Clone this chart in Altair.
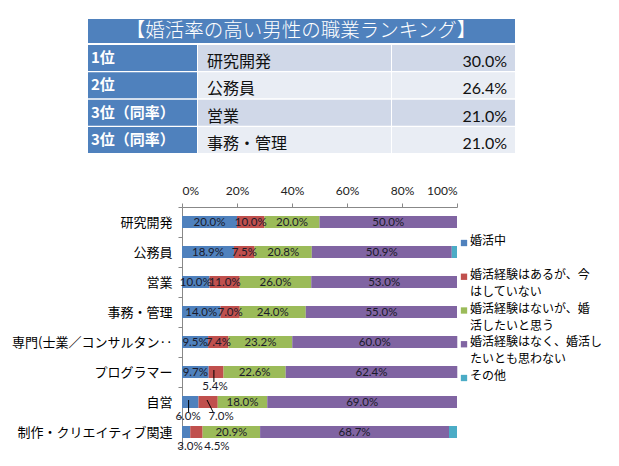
import altair as alt
import pandas as pd

# ---------------- data ----------------
categories = ["研究開発", "公務員", "営業", "事務・管理",
              "専門(士業／コンサルタン‥", "プログラマー", "自営", "制作・クリエイティブ関連"]
series = ["婚活中", "婚活経験はあるが、今はしていない", "婚活経験はないが、婚活したいと思う",
          "婚活経験はなく、婚活したいとも思わない", "その他"]
legend_lines = ["婚活中", "婚活経験はあるが、今\nはしていない", "婚活経験はないが、婚\n活したいと思う",
                "婚活経験はなく、婚活し\nたいとも思わない", "その他"]
s_active = [20.0, 18.9, 10.0, 14.0, 9.5, 9.7, 6.0, 3.0]
s_past = [10.0, 7.5, 11.0, 7.0, 7.4, 5.4, 7.0, 4.5]
s_want = [20.0, 20.8, 26.0, 24.0, 23.2, 22.6, 18.0, 20.9]
s_none = [50.0, 50.9, 53.0, 55.0, 60.0, 62.4, 69.0, 68.7]
s_other = [0.0, 1.9, 0.0, 0.0, 0.0, 0.0, 0.0, 2.9]
colors = ["#4F81BD", "#C0504D", "#9BBB59", "#8064A2", "#4BACC6"]

# labels placed below the bar
out_cat = ["プログラマー", "自営", "自営", "制作・クリエイティブ関連", "制作・クリエイティブ関連"]
out_series = [1, 0, 1, 0, 1]
out_text = ["5.4%", "6.0%", "7.0%", "3.0%", "4.5%"]
out_x = [12.0, 2.2, 14.2, 2.9, 12.7]
lead_cat = ["プログラマー", "自営", "自営"]
lead_x1 = [11.6, 2.4, 9.1]
lead_x2 = [11.6, 2.4, 11.3]

rank_labels = ["1位", "2位", "3位（同率）", "3位（同率）"]
rank_jobs = ["研究開発", "公務員", "営業", "事務・管理"]
rank_rates = ["30.0%", "26.4%", "21.0%", "21.0%"]
table_title = "【婚活率の高い男性の職業ランキング】"

# ---------------- tables ----------------
all_series = [s_active, s_past, s_want, s_none, s_other]
rows = []
for ci, c in enumerate(categories):
    start = 0.0
    for si, s in enumerate(series):
        v = all_series[si][ci]
        rows.append({"cat": c, "series": s, "sidx": si, "value": v,
                     "start": start, "end": start + v, "mid": start + v / 2,
                     "label": f"{v:.1f}%"})
        start += v
bars_df = pd.DataFrame(rows)
bars_df = bars_df[bars_df["value"] > 0]
outside_keys = set(zip(out_cat, [series[i] for i in out_series]))
inside_df = bars_df[(bars_df["sidx"] < 4) &
                    (~bars_df.apply(lambda r: (r["cat"], r["series"]) in outside_keys, axis=1))]
out_df = pd.DataFrame({"cat": out_cat, "text": out_text, "x": out_x})
lead_df = pd.DataFrame({"cat": lead_cat, "x1": lead_x1, "x2": lead_x2})
legend_df = pd.DataFrame({"idx": list(range(len(series))), "text": legend_lines, "series": series})
rank_df = pd.DataFrame({"idx": list(range(4)), "rank": rank_labels, "job": rank_jobs, "rate": rank_rates})
title_df = pd.DataFrame({"t": [table_title]})

JP = "Noto Sans CJK JP"
NUM = "Lato"

# ---------------- bar chart group ----------------
yenc = alt.Y("cat:N", sort=categories,
             scale=alt.Scale(domain=categories, paddingInner=0, paddingOuter=0),
             axis=alt.Axis(orient="left", title=None, labelFontSize=13, labelColor="#000",
                           labelFont=JP, tickBand="extent", tickSize=4, tickColor="#888",
                           domainColor="#888", labelPadding=6, labelLimit=220, grid=False))
xscale = alt.Scale(domain=[0, 100], nice=False)

bars = alt.Chart(bars_df).mark_bar(size=12).encode(
    x=alt.X("start:Q", scale=xscale,
            axis=alt.Axis(orient="top", values=[0, 20, 40, 60, 80, 100], labelExpr="datum.value + '%'",
                          title=None, tickSize=4, tickColor="#888", domainColor="#888",
                          labelFontSize=12, labelColor="#222", labelFont=NUM, labelPadding=6,
                          grid=False)),
    x2="end:Q",
    y=yenc,
    color=alt.Color("series:N", scale=alt.Scale(domain=series, range=colors), legend=None),
)
inside = alt.Chart(inside_df).mark_text(fontSize=11.5, font=NUM, color="#1a1a2a", dy=1).encode(
    x=alt.X("mid:Q", scale=xscale),
    y=alt.Y("cat:N", sort=categories),
    text="label:N",
)
outside = alt.Chart(out_df).mark_text(fontSize=11.5, font=NUM, color="#1a1a2a", dy=15).encode(
    x=alt.X("x:Q", scale=xscale),
    y=alt.Y("cat:N", sort=categories),
    text="text:N",
)
leaders = alt.Chart(lead_df).mark_rule(color="#000", strokeWidth=1, yOffset=-2, y2Offset=10).encode(
    x=alt.X("x1:Q", scale=xscale),
    x2="x2:Q",
    y=alt.Y("cat:N", sort=categories, bandPosition=0.5),
    y2=alt.Y2("cat:N", bandPosition=0.5),
)
bar_group = alt.layer(bars, inside, outside, leaders)

# ---------------- legend group ----------------
lscale = alt.Scale(domain=[0, 4], range=[36, 171])
leg_sq = alt.Chart(legend_df).mark_square(size=40, opacity=1, dy=2).encode(
    x=alt.value(282),
    y=alt.Y("idx:Q", scale=lscale, axis=None),
    color=alt.Color("series:N", scale=alt.Scale(domain=series, range=colors), legend=None),
)
leg_tx = alt.Chart(legend_df).mark_text(align="left", baseline="top", dy=-7, fontSize=12,
                                         font=JP, color="#000", lineBreak="\n", lineHeight=17).encode(
    x=alt.value(288),
    y=alt.Y("idx:Q", scale=lscale, axis=None),
    text="text:N",
)
legend_group = alt.layer(leg_sq, leg_tx)

# ---------------- ranking table group ----------------
rscale = alt.Scale(domain=[0, 1, 2, 3], range=[-162, -54], paddingInner=0.05, paddingOuter=0)
ry = alt.Y("idx:O", scale=rscale, axis=None)
shade = alt.condition("datum.idx % 2 == 0", alt.value("#D0D8E8"), alt.value("#E9EDF4"))
title_rect = alt.Chart(title_df).mark_rect(color="#4F81BD").encode(
    x=alt.value(-94), x2=alt.value(333), y=alt.value(-188), y2=alt.value(-164))
title_txt = alt.Chart(title_df).mark_text(fontSize=19.5, font=JP, fontWeight=300, color="#fff").encode(
    x=alt.value(119), y=alt.value(-176), text="t:N")
c1 = alt.Chart(rank_df).mark_rect(color="#4F81BD").encode(x=alt.value(-94), x2=alt.value(15), y=ry)
c2 = alt.Chart(rank_df).mark_rect().encode(x=alt.value(16), x2=alt.value(209), y=ry, color=shade)
c3 = alt.Chart(rank_df).mark_rect().encode(x=alt.value(210), x2=alt.value(333), y=ry, color=shade)
t1 = alt.Chart(rank_df).mark_text(align="left", fontSize=15, fontWeight="bold", font=JP,
                                  color="#fff", dy=0).encode(x=alt.value(-91), y=ry, text="rank:N")
t2 = alt.Chart(rank_df).mark_text(align="left", fontSize=16, font=JP, color="#111",
                                  dy=4).encode(x=alt.value(25), y=ry, text="job:N")
t3 = alt.Chart(rank_df).mark_text(align="right", fontSize=16, font=NUM, color="#111",
                                  dy=4).encode(x=alt.value(325), y=ry, text="rate:N")
table_group = alt.layer(title_rect, title_txt, c1, c2, c3, t1, t2, t3)

chart = alt.layer(table_group, bar_group, legend_group).resolve_scale(
    x="independent", y="independent", color="independent"
).properties(
    width=275, height=240,
    padding={"left": 174, "top": 199, "right": 150, "bottom": 10},
    autosize=alt.AutoSizeParams(type="none"),
    background="#ffffff",
).configure_view(stroke=None)

chart.save("out.html", embed_options={"renderer": "svg", "actions": False})
